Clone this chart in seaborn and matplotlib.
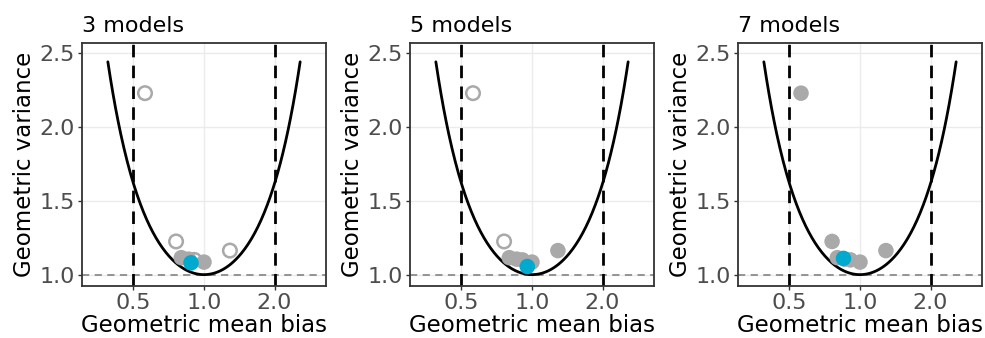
import numpy as np
import pandas as pd
import matplotlib
matplotlib.use("Agg")
import matplotlib.pyplot as plt
import seaborn as sns

# ---- data ----
model_bias = [0.56, 0.76, 0.80, 0.86, 0.91, 1.00, 1.29]
model_var = [2.23, 1.225, 1.115, 1.105, 1.10, 1.085, 1.163]
panel_titles = ["3 models", "5 models", "7 models"]
selected_idx = [[2, 3, 5], [2, 3, 4, 5, 6], [0, 1, 2, 3, 4, 5, 6]]
ensemble_bias = [0.88, 0.955, 0.85]
ensemble_var = [1.08, 1.055, 1.11]
x_ticks = [0.5, 1.0, 2.0]
x_tick_labels = ["0.5", "1.0", "2.0"]
y_ticks = [1.0, 1.5, 2.0, 2.5]
y_tick_labels = ["1.0", "1.5", "2.0", "2.5"]
bias_limits = [0.5, 2.0]

# theoretical minimum geometric variance for a given geometric mean bias
curve_x = np.exp(np.linspace(-0.945, 0.945, 300))
curve_df = pd.DataFrame({"bias": curve_x, "var": np.exp(np.log(curve_x) ** 2)})

sns.set_theme(style="white")
plt.rcParams["font.family"] = ["DejaVu Sans"]

fig = plt.figure(figsize=(9.85, 3.38), dpi=100)
lefts = [82 / 985, 410 / 985, 738 / 985]
w = 244 / 985
h = 243 / 338
b = 52 / 338

grey = "#A9A9A9"
blue = "#00AACF"

for i in range(3):
    ax = fig.add_axes([lefts[i], b, w, h])
    ax.set_xscale("log", base=2)
    ax.set_xlim(2 ** -1.73, 2 ** 1.73)
    ax.set_ylim(0.923, 2.57)
    ax.set_axisbelow(True)
    ax.grid(True, color="#EBEBEB", linewidth=1.0)

    df = pd.DataFrame({"bias": model_bias, "var": model_var})
    sel = df.index.isin(selected_idx[i])

    ax.axhline(1.0, color="#8C8C8C", linestyle=(0, (4, 3)), linewidth=1.3, zorder=1.5)
    for v in bias_limits:
        ax.axvline(v, color="black", linestyle=(0, (4.5, 3)), linewidth=2.0, zorder=1.6)

    sns.lineplot(data=curve_df, x="bias", y="var", ax=ax, color="black",
                 linewidth=2.0, sort=False, zorder=2)

    hollow = df[~sel]
    if len(hollow):
        sns.scatterplot(data=hollow, x="bias", y="var", ax=ax, s=95,
                        facecolors="none", edgecolor=grey, linewidth=1.8, zorder=3)
    sns.scatterplot(data=df[sel], x="bias", y="var", ax=ax, s=125,
                    color=grey, edgecolor="none", zorder=4)
    ens = pd.DataFrame({"bias": [ensemble_bias[i]], "var": [ensemble_var[i]]})
    sns.scatterplot(data=ens, x="bias", y="var", ax=ax, s=125,
                    color=blue, edgecolor="none", zorder=5)

    ax.set_xticks(x_ticks)
    ax.set_xticklabels(x_tick_labels)
    ax.xaxis.set_minor_locator(matplotlib.ticker.NullLocator())
    ax.set_yticks(y_ticks)
    ax.set_yticklabels(y_tick_labels)
    ax.tick_params(axis="both", which="major", length=3, width=1, color="#333333",
                   labelcolor="#4D4D4D", labelsize=16, pad=2, bottom=True, left=True)
    for sp in ax.spines.values():
        sp.set_color("#333333")
        sp.set_linewidth(1.3)
    ax.set_xlabel("Geometric mean bias", fontsize=16.5, color="black", labelpad=1)
    ax.set_ylabel("Geometric variance", fontsize=16.5, color="black", labelpad=3)
    ax.set_title(panel_titles[i], loc="left", fontsize=16, pad=8, color="black")

fig.savefig("out.png", dpi=100)
